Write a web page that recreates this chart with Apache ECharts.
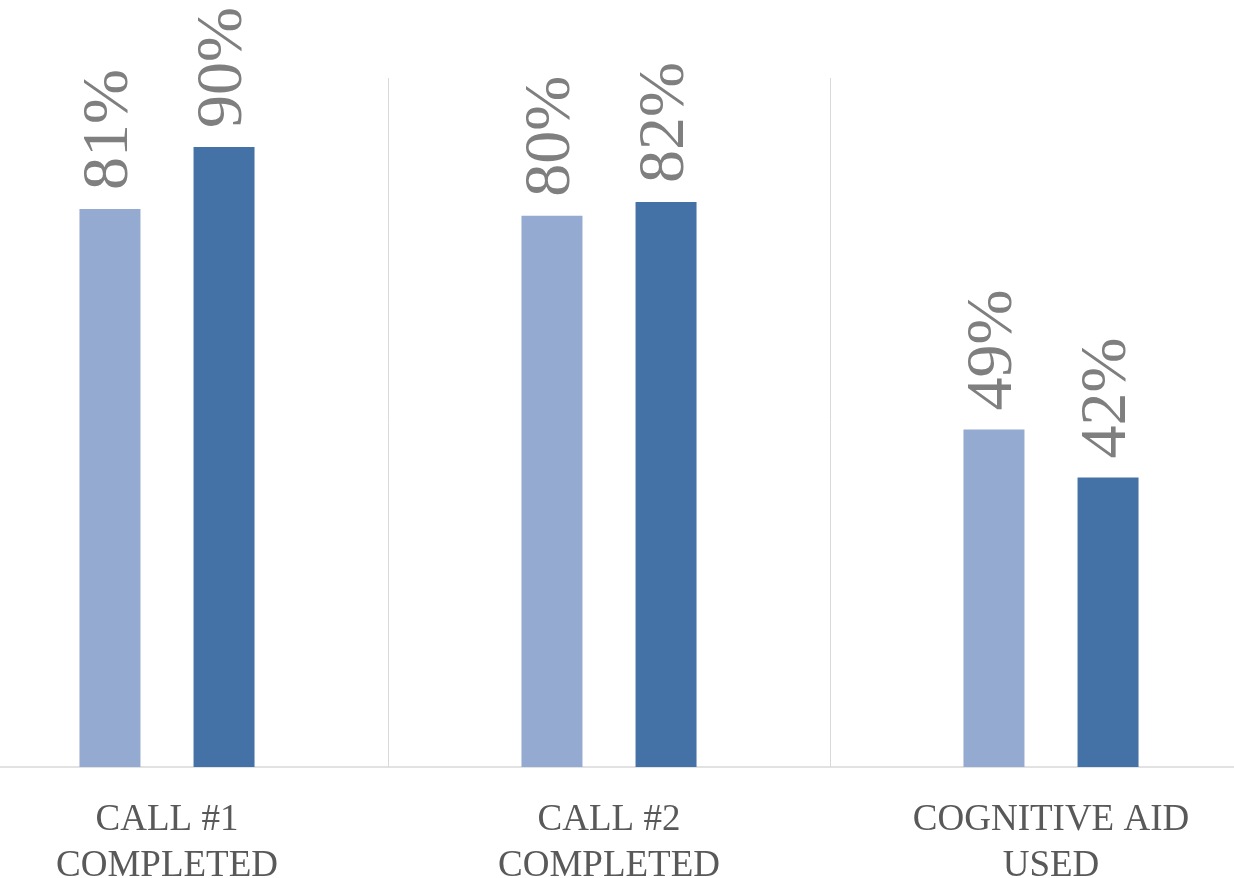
<!DOCTYPE html>
<html>
<head>
<meta charset="utf-8">
<script src="https://cdn.jsdelivr.net/npm/echarts@6/dist/echarts.min.js"></script>
<style>
  html, body { margin: 0; padding: 0; background: #fff; }
  #chart { width: 1234px; height: 878px; }
</style>
</head>
<body>
<div id="chart"></div>
<script>
var categories = ['CALL #1\nCOMPLETED', 'CALL #2\nCOMPLETED', 'COGNITIVE AID\nUSED'];
var seriesA = [81, 80, 49];
var seriesB = [90, 82, 42];

var chart = echarts.init(document.getElementById('chart'));

var labelStyle = {
  show: true,
  position: 'top',
  rotate: 90,
  align: 'left',
  verticalAlign: 'middle',
  distance: 19,
  color: '#7f7f7f',
  fontFamily: '"Liberation Serif", serif',
  fontSize: 66,
  formatter: '{c}%'
};

var option = {
  animation: false,
  grid: {
    left: -54, right: -38, top: 78, bottom: 111,
    containLabel: false,
    outerBoundsMode: 'none'
  },
  xAxis: {
    type: 'category',
    data: categories,
    axisLine: { lineStyle: { color: '#d9d9d9', width: 1.5 } },
    axisTick: { show: false },
    splitLine: { show: true, lineStyle: { color: '#d9d9d9', width: 1 } },
    axisLabel: {
      margin: 30,
      color: '#595959',
      fontFamily: '"Liberation Serif", serif',
      fontSize: 37,
      lineHeight: 46
    }
  },
  yAxis: {
    type: 'value',
    min: 0,
    max: 100,
    show: false,
    splitLine: { show: false }
  },
  series: [
    {
      type: 'bar',
      data: seriesA,
      barWidth: 61,
      barGap: '87%',
      itemStyle: { color: '#95aad1' },
      label: labelStyle
    },
    {
      type: 'bar',
      data: seriesB,
      barWidth: 61,
      itemStyle: { color: '#4472a7' },
      label: labelStyle
    }
  ]
};

chart.setOption(option);
</script>
</body>
</html>
